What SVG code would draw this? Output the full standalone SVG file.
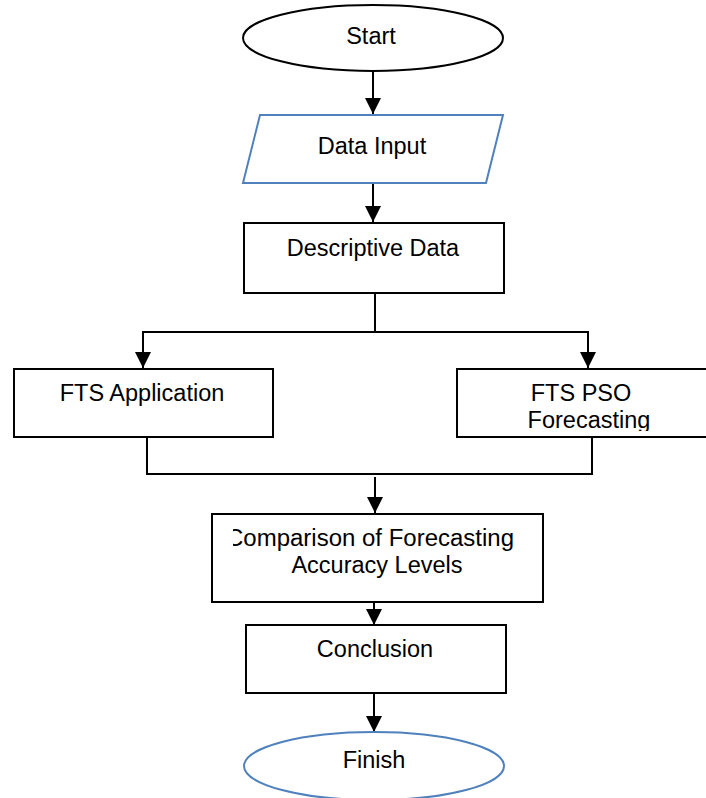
<svg xmlns="http://www.w3.org/2000/svg" width="706" height="798" viewBox="0 0 706 798">
<style>
.box{fill:#fff;stroke:#000;stroke-width:2}
.blue{fill:#fff;stroke:#4f81bd;stroke-width:2}
.ln{fill:none;stroke:#000;stroke-width:2}
.t{font-family:"Liberation Sans",Arial,sans-serif;font-size:23.5px;fill:#000;text-anchor:middle}
</style>
<defs>
<marker id="ah" viewBox="0 0 16 16" refX="16" refY="8" markerWidth="16" markerHeight="16" markerUnits="userSpaceOnUse" orient="auto">
<path d="M0,0 L16,8 L0,16 Z" fill="#000"/>
</marker>
<clipPath id="clipPso"><rect x="456" y="369" width="260" height="62"/></clipPath>
<clipPath id="clipCmp"><rect x="233" y="514" width="310" height="88"/></clipPath>
</defs>
<g id="connectors">
<line class="ln" x1="373" y1="70" x2="373" y2="114" marker-end="url(#ah)"/>
<line class="ln" x1="373" y1="183" x2="373" y2="222" marker-end="url(#ah)"/>
<polyline class="ln" points="375,293 375,332 143,332 143,368" marker-end="url(#ah)"/>
<polyline class="ln" points="375,332 588,332 588,368" marker-end="url(#ah)"/>
<polyline class="ln" points="147,437 147,474 592,474 592,437"/>
<line class="ln" x1="375" y1="477" x2="375" y2="513" marker-end="url(#ah)"/>
<line class="ln" x1="374" y1="587" x2="374" y2="625" marker-end="url(#ah)"/>
<line class="ln" x1="374" y1="693" x2="374" y2="732" marker-end="url(#ah)"/>
</g>
<g id="start">
<ellipse class="box" cx="373" cy="38" rx="130" ry="33"/>
<text class="t" x="371" y="44">Start</text>
</g>
<g id="data-input">
<polygon class="blue" points="260,115 503,115 486,183 243,183"/>
<text class="t" x="372" y="154">Data Input</text>
</g>
<g id="descriptive-data">
<rect class="box" x="244" y="223" width="260" height="70"/>
<text class="t" x="373" y="256">Descriptive Data</text>
</g>
<g id="fts-application">
<rect class="box" x="14" y="369" width="259" height="68"/>
<text class="t" x="142" y="401">FTS Application</text>
</g>
<g id="fts-pso">
<rect class="box" x="457" y="369" width="260" height="68"/>
<g clip-path="url(#clipPso)">
<text class="t" x="581" y="401">FTS PSO</text>
<text class="t" x="589" y="428">Forecasting</text>
</g>
</g>
<g id="comparison">
<rect class="box" x="212" y="514" width="331" height="88"/>
<g clip-path="url(#clipCmp)">
<text class="t" x="370" y="546" textLength="288" lengthAdjust="spacingAndGlyphs">Comparison of Forecasting</text>
</g>
<text class="t" x="377" y="573">Accuracy Levels</text>
</g>
<g id="conclusion">
<rect class="box" x="246" y="625" width="260" height="68"/>
<text class="t" x="375" y="657">Conclusion</text>
</g>
<g id="finish">
<ellipse class="blue" cx="374" cy="766" rx="130" ry="34"/>
<text class="t" x="374" y="768">Finish</text>
</g>
</svg>
